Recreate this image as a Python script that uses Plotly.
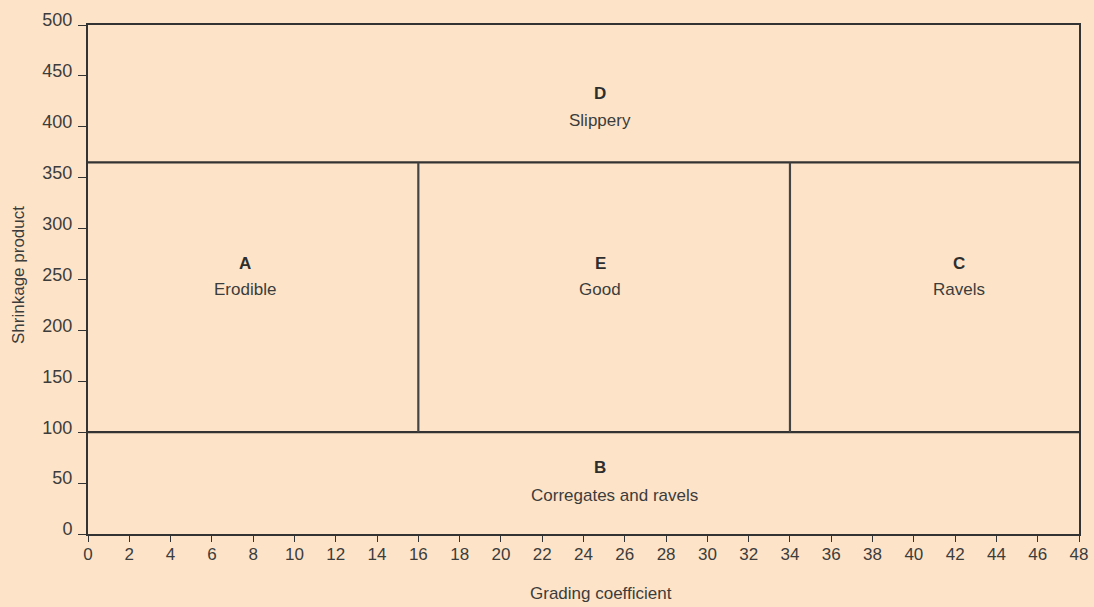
import plotly.graph_objects as go

# Data
x_ticks = list(range(0, 49, 2))
y_ticks = list(range(0, 501, 50))
x_range = [0, 48]
y_range = [0, 500]
x_bounds = [16, 34]        # vertical zone boundaries (grading coefficient)
y_bounds = [100, 365]      # horizontal zone boundaries (shrinkage product)

zone_letters = ["D", "A", "E", "C", "B"]
zone_names = ["Slippery", "Erodible", "Good", "Ravels", "Corregates and ravels"]
letter_x = [24.8, 7.6, 24.8, 42.2, 24.8]
letter_y = [433, 266, 266, 266, 65]
name_x = [24.8, 7.6, 24.8, 42.2, 25.5]
name_y = [406, 240, 240, 240, 38]

bg = "#FDE4C8"
ink = "#333333"
txt = "#3c3c3c"
font_family = "Liberation Sans, Arial, sans-serif"

W, H = 1094, 607
L, R, T, B = 88, 15, 25, 73
pw, ph = W - L - R, H - T - B

fig = go.Figure()

# horizontal boundaries, full width
for yb in y_bounds:
    fig.add_trace(go.Scatter(x=x_range, y=[yb, yb], mode="lines",
                             line=dict(color=ink, width=2.2), hoverinfo="skip",
                             showlegend=False))
# vertical boundaries between the two horizontals
for xb in x_bounds:
    fig.add_trace(go.Scatter(x=[xb, xb], y=y_bounds, mode="lines",
                             line=dict(color="#444444", width=2.2), hoverinfo="skip",
                             showlegend=False))

for lt, zx, zy in zip(zone_letters, letter_x, letter_y):
    fig.add_annotation(x=zx, y=zy, xref="x", yref="y", showarrow=False,
                       text=f"<b>{lt}</b>",
                       font=dict(family=font_family, size=17, color="#2e2e2e"))
for nm, zx, zy in zip(zone_names, name_x, name_y):
    fig.add_annotation(x=zx, y=zy, xref="x", yref="y", showarrow=False,
                       text=nm,
                       font=dict(family=font_family, size=17, color=txt))

# axis titles placed in pixel-equivalent paper coordinates
fig.add_annotation(xref="paper", yref="paper",
                   x=(601 - L) / pw, y=-(593 - (H - B)) / ph,
                   xanchor="center", yanchor="middle", showarrow=False,
                   text="Grading coefficient",
                   font=dict(family=font_family, size=17, color=txt))
fig.add_annotation(xref="paper", yref="paper",
                   x=-(L - 18) / pw, y=((H - B) - 275) / ph,
                   xanchor="center", yanchor="middle", showarrow=False,
                   textangle=-90, text="Shrinkage product",
                   font=dict(family=font_family, size=17, color=txt))

fig.update_layout(
    width=W, height=H,
    paper_bgcolor=bg, plot_bgcolor=bg,
    margin=dict(l=L, r=R, t=T, b=B, autoexpand=False),
    font=dict(family=font_family, size=17, color=txt),
    showlegend=False,
)

fig.update_xaxes(range=x_range, tickvals=x_ticks, ticks="outside", ticklen=6,
                 tickcolor=ink, showline=True, linecolor=ink, linewidth=2,
                 mirror=True, showgrid=False, zeroline=False, automargin=False,
                 ticklabelstandoff=-2,
                 tickfont=dict(size=17, color=txt))
fig.update_yaxes(range=y_range, tickvals=y_ticks, ticks="outside", ticklen=8,
                 tickcolor=ink, showline=True, linecolor=ink, linewidth=2,
                 mirror=True, showgrid=False, zeroline=False, automargin=False,
                 ticklabelshift=-5, ticklabelstandoff=2,
                 tickfont=dict(size=18, color=txt))

fig.write_html("out.html", config={"displayModeBar": False},
               post_script="document.body.style.margin='0';document.body.style.background='%s';document.body.style.overflow='hidden';" % bg)
